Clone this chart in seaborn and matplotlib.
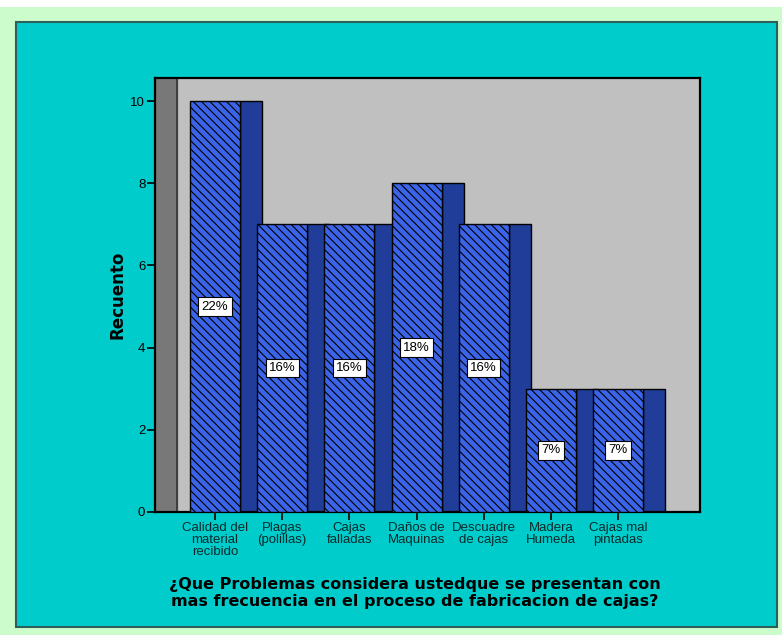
import numpy as np
import pandas as pd
import matplotlib
matplotlib.use("Agg")
import matplotlib.pyplot as plt
from matplotlib.patches import Rectangle
import seaborn as sns

categories = ["Calidad del\nmaterial\nrecibido", "Plagas\n(polillas)", "Cajas\nfalladas",
              "Daños de\nMaquinas", "Descuadre\nde cajas", "Madera\nHumeda", "Cajas mal\npintadas"]
counts = [10, 7, 7, 8, 7, 3, 3]
y_ticks = [0, 2, 4, 6, 8, 10]

total = sum(counts)
percents = [round(100 * c / total) for c in counts]
df = pd.DataFrame({"problema": categories, "recuento": counts})

sns.set_theme(style="white")
plt.rcParams["font.family"] = ["Liberation Sans", "DejaVu Sans"]
plt.rcParams["hatch.linewidth"] = 0.8
plt.rcParams["hatch.color"] = "black"

W, H = 782, 635
fig = plt.figure(figsize=(W / 100, H / 100), dpi=100, facecolor="#ccfccc")

# white strip on top, then the teal panel with a thin dark border
fig.patches.append(Rectangle((0, 1 - 7 / H), 1, 7 / H, transform=fig.transFigure,
                             facecolor="white", edgecolor="none", zorder=-2))
fig.patches.append(Rectangle((16 / W, 1 - 627 / H), (777 - 16) / W, (627 - 22) / H,
                             transform=fig.transFigure, facecolor="#00cccc",
                             edgecolor="#2f5f5a", linewidth=1.5, zorder=-2))

ax = fig.add_axes([155 / W, 1 - 512 / H, 545 / W, 434 / H])
ax.set_zorder(1)
ax.set_facecolor("#c0c0c0")

front_w = 0.744
side_w = 0.327
x0 = -0.893
ax.set_xlim(x0, x0 + 545 / 67.2)
ax.set_ylim(0, 434 / 41.1)

# left wall of the 3D box
ax.axvspan(x0, x0 + 22 / 67.2, color="#787878", zorder=1)
ax.axvline(x0 + 22 / 67.2, color="#333333", linewidth=1.2, zorder=1.5)

# side faces (depth) of each bar
xs = np.arange(len(categories))
ax.bar(xs + front_w / 2 + side_w / 2, counts, width=side_w, color="#1f3d99",
       edgecolor="black", linewidth=1.0, zorder=2)

# front faces
sns.barplot(data=df, x="problema", y="recuento", ax=ax, color="#3b64e8",
            saturation=1, width=front_w, edgecolor="black", linewidth=1.0,
            hatch="\\\\\\\\", zorder=3)
ax.set_xlim(x0, x0 + 545 / 67.2)

for i, (c, p) in enumerate(zip(counts, percents)):
    ax.text(i, c / 2, f"{p}%", ha="center", va="center", fontsize=9.5, color="black",
            zorder=5, bbox=dict(boxstyle="square,pad=0.25", facecolor="white",
                                edgecolor="black", linewidth=0.8))

ax.set_yticks(y_ticks)
ax.set_yticklabels([str(t) for t in y_ticks], fontsize=9.5, color="black")
ax.set_xticks(xs)
ax.set_xticklabels(categories, fontsize=9.5, color="#0a2a2a", linespacing=1.0)
ax.tick_params(axis="both", which="both", length=6, width=1.2, color="black",
               bottom=True, left=True, pad=1)

for s in ax.spines.values():
    s.set_color("black")
    s.set_linewidth(1.6)

ax.set_xlabel("")
ax.set_ylabel("")
fig.text(117 / W, 1 - 295 / H, "Recuento", rotation=90, ha="center", va="center",
         fontsize=12, fontweight="bold", color="black", family=["DejaVu Sans"])
fig.text(415 / W, 1 - 593 / H,
         "¿Que Problemas considera ustedque se presentan con\nmas frecuencia en el proceso de fabricacion de cajas?",
         ha="center", va="center", fontsize=11.5, fontweight="bold", color="black",
         family=["DejaVu Sans"], linespacing=1.2)

fig.savefig("out.png", dpi=100, facecolor=fig.get_facecolor())
